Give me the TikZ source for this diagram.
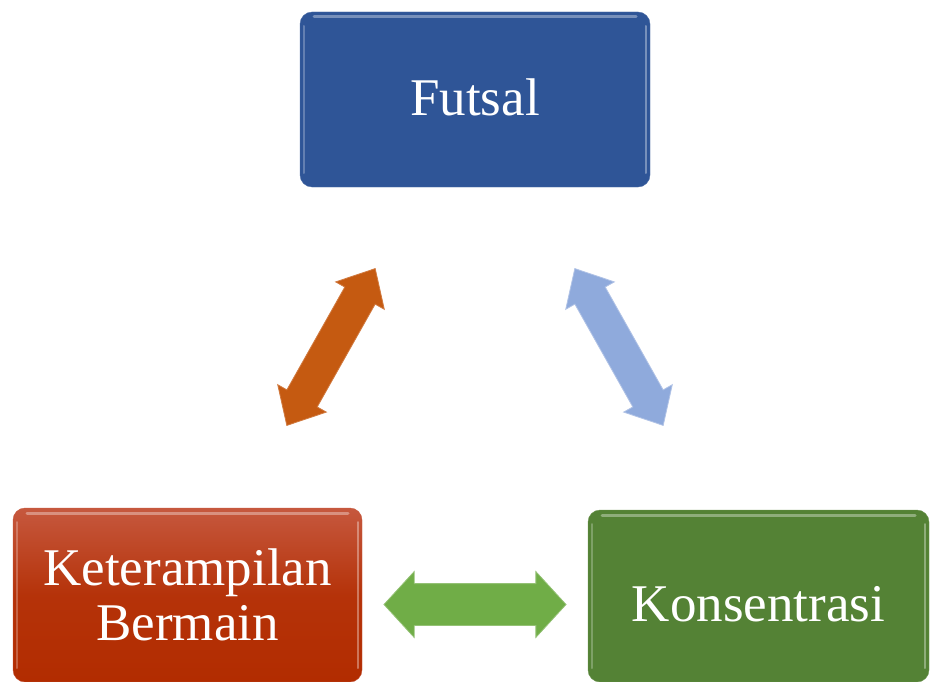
\documentclass[tikz,border=0pt]{standalone}
\usepackage{fontspec}
\setmainfont{Liberation Serif}
\usetikzlibrary{shapes.arrows}
\definecolor{boxblue}{RGB}{47,85,151}
\definecolor{boxgreen}{RGB}{84,130,53}
\definecolor{redtop}{RGB}{198,88,62}
\definecolor{redbot}{RGB}{178,44,0}
\definecolor{arrorange}{RGB}{197,90,17}
\definecolor{arrblue}{RGB}{143,170,220}
\definecolor{arrgreen}{RGB}{112,173,71}
\tikzset{
  bevel/.style={path picture={
    \draw[white, opacity=.35, line width=3pt, line cap=round]
      ([xshift=14pt,yshift=-5pt]path picture bounding box.north west) --
      ([xshift=-14pt,yshift=-5pt]path picture bounding box.north east);
    \draw[white, opacity=.35, line width=2pt, line cap=round]
      ([xshift=-4pt,yshift=-14pt]path picture bounding box.north east) --
      ([xshift=-4pt,yshift=14pt]path picture bounding box.south east);
    \draw[white, opacity=.25, line width=2pt, line cap=round]
      ([xshift=4pt,yshift=-14pt]path picture bounding box.north west) --
      ([xshift=4pt,yshift=14pt]path picture bounding box.south west);
  }},
  card/.style={rectangle, rounded corners=12pt, inner sep=0pt, bevel,
    text=white, align=center, font=\fontsize{53}{55}\selectfont},
  barrow/.style={double arrow, inner xsep=0pt, inner ysep=17pt, minimum height=180pt,
    minimum width=54pt, double arrow head extend=10.5pt,
    double arrow tip angle=84, line width=0.8pt}
}
\begin{document}
\begin{tikzpicture}[x=1pt,y=-1pt]
\useasboundingbox (0,0) rectangle (931,682);
\node[card, fill=boxblue, draw=boxblue!85!white, minimum width=350pt, minimum height=175pt]
  (futsal) at (475,99.5) {\raisebox{2pt}[\height][\depth]{Futsal}};
\node[card, top color=redtop, bottom color=redbot, middle color=redbot!85!redtop,
  draw=redtop, minimum width=349pt, minimum height=174pt]
  (ket) at (187.5,595) {Keterampilan\\Bermain};
\node[card, fill=boxgreen, draw=boxgreen!85!white, minimum width=341pt, minimum height=172pt]
  (kon) at (758.5,596) {\raisebox{-8pt}[\height][\depth]{Konsentrasi}};
\node[barrow, fill=arrorange, draw=arrorange!80!white, rotate=60.6] (a1) at (331,347) {};
\node[barrow, fill=arrblue, draw=arrblue!70!white, rotate=-60.6] (a2) at (619,347) {};
\node[barrow, fill=arrgreen, draw=arrgreen!75!white, minimum height=182pt,
  inner ysep=20.5pt, minimum width=65pt, double arrow head extend=12pt, double arrow tip angle=95]
  (a3) at (475,604.5) {};
\end{tikzpicture}
\end{document}
